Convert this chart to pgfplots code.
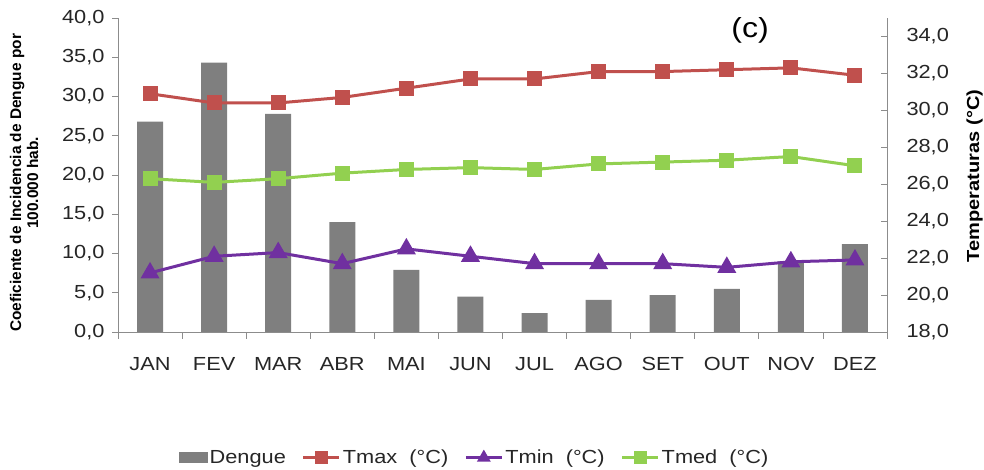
\documentclass[border=0pt]{standalone}
\usepackage{pgfplots}
\pgfplotsset{compat=1.18}
\usepackage{fontspec}
\setmainfont{Liberation Sans}[FakeStretch=1.15]
\newfontfamily\labfont{Liberation Sans}
\definecolor{bargray}{HTML}{7F7F7F}
\definecolor{tmaxc}{HTML}{C0504D}
\definecolor{tminc}{HTML}{7030A0}
\definecolor{tmedc}{HTML}{92D050}
\definecolor{axgray}{HTML}{8C8C8C}
\definecolor{txt}{HTML}{262626}
\pgfplotsset{
  common/.style={
    scale only axis, width=769bp, height=314bp,
    at={(118bp,138bp)}, anchor=south west,
    xmin=0.5, xmax=12.5,
    axis line style={axgray, line width=0.8bp, -},
    ticklabel style={font=\fontsize{19}{22}\selectfont, text=txt},
    /pgf/number format/fixed, /pgf/number format/fixed zerofill,
    /pgf/number format/precision=1, /pgf/number format/use comma,
    /pgf/number format/assume math mode=true,
  }
}
\begin{document}
\begin{tikzpicture}
\useasboundingbox (0,0) rectangle (984bp,470bp);
\begin{axis}[common,
  ymin=0, ymax=40, ytick={0,5,...,40},
  axis y line*=left, axis x line*=bottom,
  tick align=outside, major tick length=6bp, minor tick length=7bp,
  ytick style={axgray, line width=0.8bp},
  xtick={1,...,12},
  xticklabels={JAN,FEV,MAR,ABR,MAI,JUN,JUL,AGO,SET,OUT,NOV,DEZ},
  major x tick style={draw=none},
  minor xtick={0.5,1.5,...,12.5},
  minor x tick style={axgray, line width=0.8bp},
  xticklabel style={yshift=-16bp},
  yticklabel style={xshift=-4bp},
  ylabel={Coeficiente de Incidencia de Dengue por\\100.000 hab.},
  ylabel style={at={(axis description cs:-0.122,0.475)}, anchor=center,
    align=center, font=\labfont\bfseries\fontsize{15.5}{17}\selectfont, text=black},
]
\addplot[ybar, bar width=26bp, fill=bargray, draw=none]
  coordinates {(1,26.8) (2,34.3) (3,27.8) (4,14.0) (5,7.9) (6,4.5)
               (7,2.4) (8,4.1) (9,4.7) (10,5.5) (11,9.0) (12,11.2)};
\end{axis}
\begin{axis}[common,
  ymin=18, ymax=35, ytick={18,20,...,34},
  axis y line*=right, axis x line=none,
  tick align=inside, major tick length=6bp,
  ytick style={axgray, line width=0.8bp},
  yticklabel style={xshift=16bp},
  ylabel={Temperaturas (°C)},
  ylabel style={at={(axis description cs:1.114,0.497)}, anchor=center, rotate=0,
    font=\bfseries\fontsize{17.5}{20}\selectfont, text=black},
  legend style={at={(axis description cs:0.464,-0.40)}, anchor=center,
    legend columns=4, draw=none, fill=none,
    font=\fontsize{19}{22}\selectfont, text=txt,
    /tikz/every even column/.append style={column sep=14bp},
    legend cell align=left, inner sep=0pt},
  legend image code/.code={%
    \draw[mark repeat=2, mark phase=2, mark size=5bp] plot coordinates {(0bp,0bp) (18bp,0bp) (36bp,0bp)};},
]
\addlegendimage{legend image code/.code={\fill[bargray] (0bp,-5bp) rectangle (28bp,5bp);}}
\addlegendentry{Dengue}
\addplot[tmaxc, line width=3bp, mark=square*, mark size=6bp, mark options={solid}]
  coordinates {(1,30.9) (2,30.4) (3,30.4) (4,30.7) (5,31.2) (6,31.7)
               (7,31.7) (8,32.1) (9,32.1) (10,32.2) (11,32.3) (12,31.9)};
\addlegendentry{Tmax~ (°C)}
\addplot[tminc, line width=3bp, mark=triangle*, mark size=8bp, mark options={solid}]
  coordinates {(1,21.2) (2,22.1) (3,22.3) (4,21.7) (5,22.5) (6,22.1)
               (7,21.7) (8,21.7) (9,21.7) (10,21.5) (11,21.8) (12,21.9)};
\addlegendentry{Tmin~ (°C)}
\addplot[tmedc, line width=3bp, mark=square*, mark size=6bp, mark options={solid}]
  coordinates {(1,26.3) (2,26.1) (3,26.3) (4,26.6) (5,26.8) (6,26.9)
               (7,26.8) (8,27.1) (9,27.2) (10,27.3) (11,27.5) (12,27.0)};
\addlegendentry{Tmed~ (°C)}
\node[font=\fontsize{28}{32}\selectfont, text=black] at (rel axis cs:0.822,0.962) {(c)};
\end{axis}
\end{tikzpicture}
\end{document}
